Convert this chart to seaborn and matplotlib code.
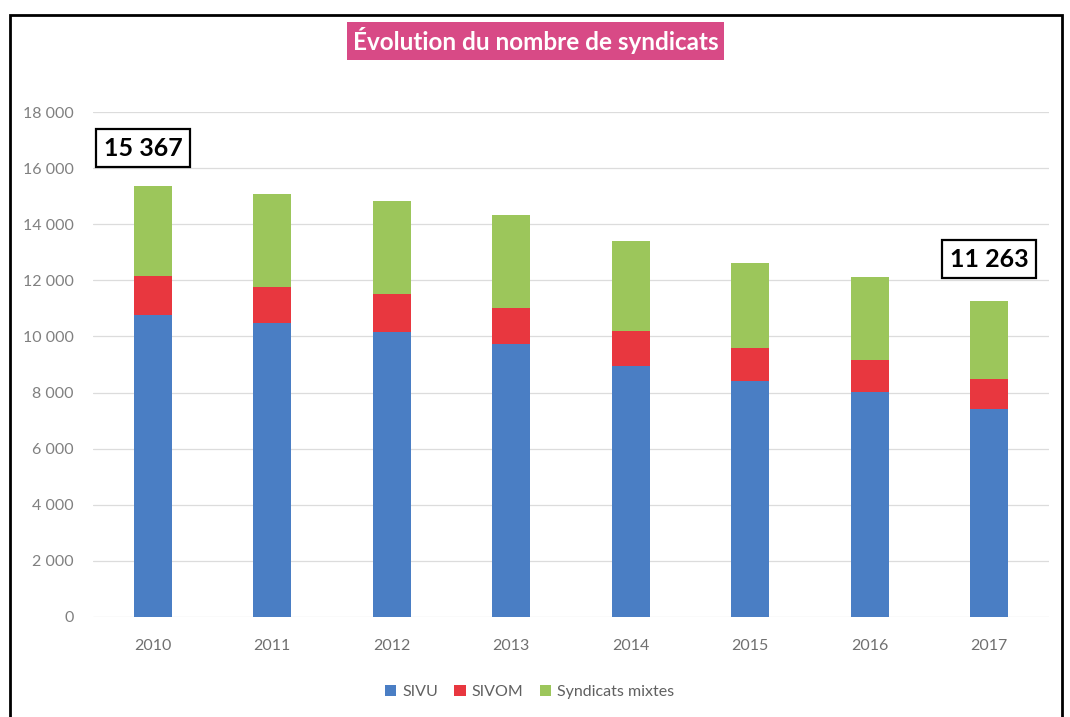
import matplotlib
matplotlib.use("Agg")
import matplotlib.pyplot as plt
import seaborn as sns
import pandas as pd
import numpy as np
from matplotlib.patches import Rectangle, Patch
from matplotlib.ticker import FuncFormatter, MultipleLocator

# ---- data ----
years = ["2010", "2011", "2012", "2013", "2014", "2015", "2016", "2017"]
sivu = [10760, 10480, 10170, 9720, 8960, 8410, 8010, 7420]
sivom = [1410, 1290, 1330, 1310, 1230, 1180, 1140, 1060]
mixtes = [3197, 3320, 3310, 3300, 3210, 3030, 2970, 2783]
series_names = ["SIVU", "SIVOM", "Syndicats mixtes"]
title = "Évolution du nombre de syndicats"

colors = ["#4A7EC4", "#E8373F", "#9CC65B"]

sns.set_theme(style="white")
plt.rcParams["font.family"] = ["Lato", "DejaVu Sans"]

df = pd.DataFrame({"Année": years, "SIVU": sivu, "SIVOM": sivom, "Mixtes": mixtes})
df["c1"] = df["SIVU"]
df["c2"] = df["SIVU"] + df["SIVOM"]
df["c3"] = df["c2"] + df["Mixtes"]

fig = plt.figure(figsize=(10.7, 7.17), dpi=100)
ax = fig.add_axes([93 / 1070, 1 - 617 / 717, (1049 - 93) / 1070, (617 - 112) / 717])

for col, color in zip(["c3", "c2", "c1"], colors[::-1]):
    sns.barplot(data=df, x="Année", y=col, color=color, width=0.32,
                saturation=1, ax=ax, zorder=3, linewidth=0, edgecolor="none")

ax.set_xlim(-0.5, len(years) - 0.5)
ax.set_ylim(0, 18000)
ax.yaxis.set_major_locator(MultipleLocator(2000))
ax.yaxis.set_major_formatter(FuncFormatter(lambda v, p: f"{int(v):,}".replace(",", " ")))
ax.set_xlabel("")
ax.set_ylabel("")
for s in ax.spines.values():
    s.set_visible(False)
ax.grid(axis="y", color="#dcdcdc", linewidth=0.9, zorder=0)
ax.set_axisbelow(True)
ax.tick_params(axis="y", length=0, pad=14, labelsize=11.5, labelcolor="#808080")
ax.tick_params(axis="x", length=0, pad=16, labelsize=11.5, labelcolor="#707070")

# annotations of totals
totals = df["c3"].tolist()
def fmt(v):
    return f"{int(round(v)):,}".replace(",", " ")

box = dict(boxstyle="square,pad=0.3", fc="white", ec="black", lw=1.6)
ax.text(-0.08, 16700, fmt(totals[0]), ha="center", va="center", fontsize=18,
        fontweight="bold", color="black", bbox=box, zorder=5)
ax.text(7.0, 12750, fmt(totals[-1]), ha="center", va="center", fontsize=18,
        fontweight="bold", color="black", bbox=box, zorder=5)

# title
fig.text(0.5005, 1 - 41 / 717, title, ha="center", va="center", fontsize=17.5,
         fontweight="bold", color="white",
         bbox=dict(boxstyle="square,pad=0.22", fc="#D84A86", ec="none"))

# legend
handles = [Patch(facecolor=c, edgecolor="none", label=n) for c, n in zip(colors, series_names)]
leg = fig.legend(handles=handles, loc="center", bbox_to_anchor=(0.495, 1 - 692 / 717),
                 ncol=3, frameon=False, fontsize=11.5, handlelength=0.7, handleheight=0.7,
                 handletextpad=0.4, columnspacing=1.0)
for t in leg.get_texts():
    t.set_color("#606060")

# outer frame
fig.add_artist(Rectangle((10 / 1070, -0.02), (1062 - 10) / 1070, (717 - 15) / 717 + 0.02,
                         transform=fig.transFigure, fill=False, edgecolor="black", lw=2))

fig.savefig("out.png", dpi=100)
